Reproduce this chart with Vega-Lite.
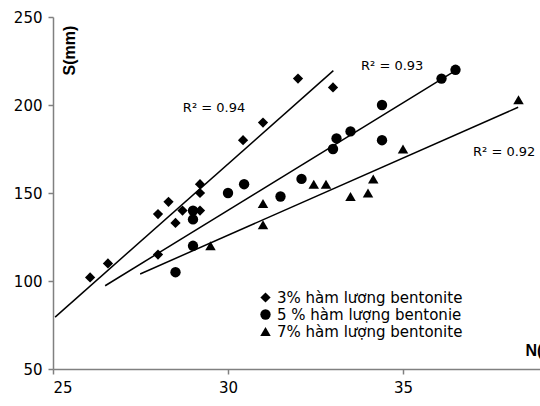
{
  "$schema": "https://vega.github.io/schema/vega-lite/v6.json",
  "autosize": {"type": "none"},
  "padding": {"left": 53, "top": 17, "right": 0, "bottom": 37},
  "width": 487,
  "height": 352,
  "background": "white",
  "config": {
    "view": {"stroke": null},
    "font": "DejaVu Sans",
    "axis": {
      "domainColor": "#808080",
      "domainWidth": 1.5,
      "tickColor": "#808080",
      "tickWidth": 1.5,
      "tickSize": 5,
      "grid": false,
      "labelColor": "black",
      "labelFont": "DejaVu Sans",
      "labelFontSize": 15
    }
  },
  "datasets": {
    "points": [
      {"N": 26.06, "S": 102, "series": "3% hàm lương bentonite"},
      {"N": 26.57, "S": 110, "series": "3% hàm lương bentonite"},
      {"N": 28.0, "S": 115, "series": "3% hàm lương bentonite"},
      {"N": 28.0, "S": 138, "series": "3% hàm lương bentonite"},
      {"N": 28.3, "S": 145, "series": "3% hàm lương bentonite"},
      {"N": 28.5, "S": 133, "series": "3% hàm lương bentonite"},
      {"N": 28.7, "S": 140, "series": "3% hàm lương bentonite"},
      {"N": 29.2, "S": 140, "series": "3% hàm lương bentonite"},
      {"N": 29.2, "S": 150, "series": "3% hàm lương bentonite"},
      {"N": 29.2, "S": 155, "series": "3% hàm lương bentonite"},
      {"N": 30.43, "S": 180, "series": "3% hàm lương bentonite"},
      {"N": 31.0, "S": 190, "series": "3% hàm lương bentonite"},
      {"N": 32.0, "S": 215, "series": "3% hàm lương bentonite"},
      {"N": 33.0, "S": 210, "series": "3% hàm lương bentonite"},
      {"N": 28.5, "S": 105, "series": "5 % hàm lượng bentonie"},
      {"N": 29.0, "S": 120, "series": "5 % hàm lượng bentonie"},
      {"N": 29.0, "S": 135, "series": "5 % hàm lượng bentonie"},
      {"N": 29.0, "S": 140, "series": "5 % hàm lượng bentonie"},
      {"N": 30.0, "S": 150, "series": "5 % hàm lượng bentonie"},
      {"N": 30.46, "S": 155, "series": "5 % hàm lượng bentonie"},
      {"N": 31.5, "S": 148, "series": "5 % hàm lượng bentonie"},
      {"N": 32.1, "S": 158, "series": "5 % hàm lượng bentonie"},
      {"N": 33.0, "S": 175, "series": "5 % hàm lượng bentonie"},
      {"N": 33.1, "S": 181, "series": "5 % hàm lượng bentonie"},
      {"N": 33.5, "S": 185, "series": "5 % hàm lượng bentonie"},
      {"N": 34.4, "S": 200, "series": "5 % hàm lượng bentonie"},
      {"N": 34.4, "S": 180, "series": "5 % hàm lượng bentonie"},
      {"N": 36.1, "S": 215, "series": "5 % hàm lượng bentonie"},
      {"N": 36.5, "S": 220, "series": "5 % hàm lượng bentonie"},
      {"N": 29.5, "S": 120, "series": "7% hàm lượng bentonite"},
      {"N": 31.0, "S": 144, "series": "7% hàm lượng bentonite"},
      {"N": 31.0, "S": 132, "series": "7% hàm lượng bentonite"},
      {"N": 32.45, "S": 155, "series": "7% hàm lượng bentonite"},
      {"N": 32.8, "S": 155, "series": "7% hàm lượng bentonite"},
      {"N": 33.5, "S": 148, "series": "7% hàm lượng bentonite"},
      {"N": 34.0, "S": 150, "series": "7% hàm lượng bentonite"},
      {"N": 34.15, "S": 158, "series": "7% hàm lượng bentonite"},
      {"N": 35.0, "S": 175, "series": "7% hàm lượng bentonite"},
      {"N": 38.3, "S": 203, "series": "7% hàm lượng bentonite"}
    ],
    "trends": [
      {"N": 25.06, "S": 79.5, "trend": "3%"},
      {"N": 33.01, "S": 219.5, "trend": "3%"},
      {"N": 26.49, "S": 97.3, "trend": "5%"},
      {"N": 36.45, "S": 219, "trend": "5%"},
      {"N": 27.49, "S": 104, "trend": "7%"},
      {"N": 38.29, "S": 198.7, "trend": "7%"}
    ],
    "labels": [
      {"N": 28.71, "S": 198.3, "text": "R² = 0.94"},
      {"N": 33.8, "S": 222.2, "text": "R² = 0.93"},
      {"N": 37.0, "S": 173.3, "text": "R² = 0.92"}
    ]
  },
  "layer": [
    {
      "data": {"name": "trends"},
      "mark": {"type": "line", "color": "black", "strokeWidth": 1.5},
      "encoding": {
        "x": {"field": "N", "type": "quantitative"},
        "y": {"field": "S", "type": "quantitative"},
        "detail": {"field": "trend", "type": "nominal"}
      }
    },
    {
      "data": {"name": "points"},
      "mark": {"type": "point", "filled": true, "color": "black", "opacity": 1},
      "encoding": {
        "x": {
          "field": "N", "type": "quantitative",
          "scale": {"domain": [25, 38.914], "nice": false, "zero": false},
          "axis": {
            "values": [25, 30, 35],
            "labelPadding": 6,
            "title": "N(kN)",
            "titleFont": "Liberation Sans",
            "titleFontWeight": "bold",
            "titleFontSize": 16,
            "titleAlign": "left",
            "titleBaseline": "middle",
            "titleAnchor": "start",
            "titleX": 472,
            "titleY": -19
          }
        },
        "y": {
          "field": "S", "type": "quantitative",
          "scale": {"domain": [50, 250], "nice": false, "zero": false},
          "axis": {
            "values": [50, 100, 150, 200, 250],
            "labelPadding": 6,
            "title": "S(mm)",
            "titleFont": "Liberation Sans",
            "titleFontWeight": "bold",
            "titleFontSize": 16,
            "titleAngle": -90,
            "titleAlign": "center",
            "titleBaseline": "middle",
            "titleX": 16,
            "titleY": 33
          }
        },
        "shape": {
          "field": "series", "type": "nominal",
          "scale": {
            "domain": ["3% hàm lương bentonite", "5 % hàm lượng bentonie", "7% hàm lượng bentonite"],
            "range": ["diamond", "circle", "triangle-up"]
          },
          "legend": {
            "orient": "none",
            "legendX": 205,
            "legendY": 273,
            "title": null,
            "padding": 0,
            "rowPadding": 0,
            "labelFont": "DejaVu Sans",
            "labelFontSize": 15,
            "labelLimit": 400,
            "labelColor": "black",
            "labelOffset": 4,
            "symbolFillColor": "black",
            "symbolStrokeColor": "black"
          }
        },
        "size": {
          "field": "series", "type": "nominal",
          "scale": {
            "domain": ["3% hàm lương bentonite", "5 % hàm lượng bentonie", "7% hàm lượng bentonite"],
            "range": [105, 110, 28]
          }
        }
      }
    },
    {
      "data": {"name": "labels"},
      "mark": {"type": "text", "align": "left", "baseline": "middle", "font": "DejaVu Sans", "fontSize": 13, "color": "black"},
      "encoding": {
        "x": {"field": "N", "type": "quantitative"},
        "y": {"field": "S", "type": "quantitative"},
        "text": {"field": "text", "type": "nominal"}
      }
    }
  ]
}
